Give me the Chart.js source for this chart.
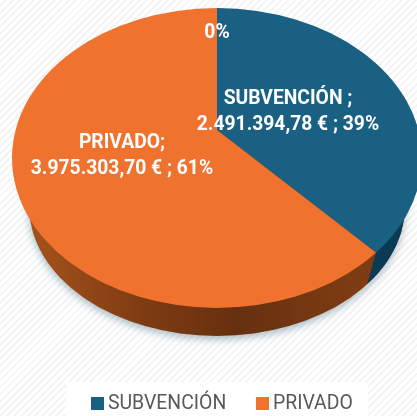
<!DOCTYPE html>
<html>
<head>
<meta charset="utf-8">
<style>
  html, body { margin: 0; padding: 0; }
  body {
    width: 417px; height: 416px; overflow: hidden;
    background: repeating-linear-gradient(135deg, #ffffff 0, #ffffff 3px, #f4f4f4 3px, #f4f4f4 5px);
  }
  #box { width: 417px; height: 416px; }
</style>
</head>
<body>
<div id="box"><canvas id="myChart" width="417" height="416"></canvas></div>
<script src="https://cdn.jsdelivr.net/npm/chart.js@4"></script>
<script>
const categories = ["SUBVENCIÓN", "PRIVADO"];
const amounts = [2491394.78, 3975303.70];
const colors = ["#1a6083", "#ef732f"];
const sliceLabels = [
  ["SUBVENCIÓN ;", "2.491.394,78 € ; 39%"],
  ["PRIVADO;", "3.975.303,70 € ; 61%"]
];
const zeroLabel = "0%";

// shape of the tilted pie on the page
const face = { cx: 217, cy: 158, rx: 205, ry: 150 };
const base = { cx: 217, cy: 206, rx: 188, ry: 130 };
const vertex = { x: 217, y: 130 };
const tilt = 0.678;

function ellipsePath(ctx, e) {
  ctx.beginPath();
  ctx.ellipse(e.cx, e.cy, e.rx, e.ry, 0, 0, Math.PI * 2);
}

// where a slice edge leaves the top face
function rimPoint(angle) {
  const dx = Math.cos(angle), dy = Math.sin(angle) * tilt;
  const ox = (vertex.x - face.cx) / face.rx, oy = (vertex.y - face.cy) / face.ry;
  const ax = dx / face.rx, ay = dy / face.ry;
  const a = ax * ax + ay * ay, b = 2 * (ox * ax + oy * ay), c = ox * ox + oy * oy - 1;
  const t = (-b + Math.sqrt(b * b - 4 * a * c)) / (2 * a);
  return { x: vertex.x + t * dx, y: vertex.y + t * dy };
}

const tiltedPie = {
  id: "tiltedPie",
  beforeDatasetsDraw(chart) {
    const ctx = chart.ctx;
    const arcs = chart.getDatasetMeta(0).data;
    const seam = rimPoint(arcs[0].endAngle);

    // side wall
    ctx.save();
    ctx.shadowColor = "rgba(90,125,140,0.55)";
    ctx.shadowBlur = 9;
    ctx.shadowOffsetY = 3;
    const wall = ctx.createLinearGradient(base.cx - base.rx, 0, base.cx + base.rx, 0);
    wall.addColorStop(0, "#a5521c");
    wall.addColorStop(0.3, "#7f3c12");
    wall.addColorStop(0.55, "#66300f");
    wall.addColorStop(0.85, "#7d3c12");
    ctx.fillStyle = wall;
    ellipsePath(ctx, base);
    ctx.fill();
    ctx.restore();

    ctx.save();
    ellipsePath(ctx, base);
    ctx.clip();
    ctx.beginPath();
    ctx.moveTo(seam.x + 21, seam.y - 75);
    ctx.lineTo(seam.x - 14, seam.y + 50);
    ctx.lineTo(chart.width, seam.y + 50);
    ctx.lineTo(chart.width, seam.y - 75);
    ctx.closePath();
    ctx.fillStyle = "#0b3a55";
    ctx.fill();
    ctx.restore();

    // top face: the library's arcs, stretched and cut by the ellipse
    ctx.save();
    ellipsePath(ctx, face);
    ctx.clip();
    ctx.translate(vertex.x, vertex.y);
    ctx.scale(2, 2 * tilt);
    ctx.translate(-arcs[0].x, -arcs[0].y);
  },
  afterDatasetsDraw(chart) {
    const ctx = chart.ctx;
    ctx.restore();

    ctx.save();
    ctx.fillStyle = "#ffffff";
    ctx.font = "bold 19.3px Roboto";
    ctx.textAlign = "center";
    ctx.textBaseline = "middle";
    ctx.fillText(sliceLabels[0][0], 288, 99.5);
    ctx.fillText(sliceLabels[0][1], 288, 125.5);
    ctx.fillText(sliceLabels[1][0], 122, 143.5);
    ctx.fillText(sliceLabels[1][1], 122, 169.5);
    ctx.fillText(zeroLabel, 217, 33.5);

    // legend
    ctx.fillRect(66, 382, 302, 34);
    ctx.font = "19.4px Roboto";
    ctx.textAlign = "left";
    const items = [{ box: 91, text: 108 }, { box: 256, text: 273 }];
    categories.forEach((name, i) => {
      ctx.fillStyle = colors[i];
      ctx.fillRect(items[i].box, 397, 13, 13);
      ctx.fillStyle = "#595959";
      ctx.fillText(name, items[i].text, 404);
    });
    ctx.restore();
  }
};

const data = {
  labels: categories,
  datasets: [{
    data: amounts,
    backgroundColor: colors,
    borderWidth: 0,
    clip: false
  }]
};

const config = {
  type: "pie",
  data: data,
  options: {
    responsive: false,
    animation: false,
    plugins: { legend: { display: false }, tooltip: { enabled: false } }
  },
  plugins: [tiltedPie]
};

const myChart = new Chart(document.getElementById("myChart"), config);
</script>
</body>
</html>
